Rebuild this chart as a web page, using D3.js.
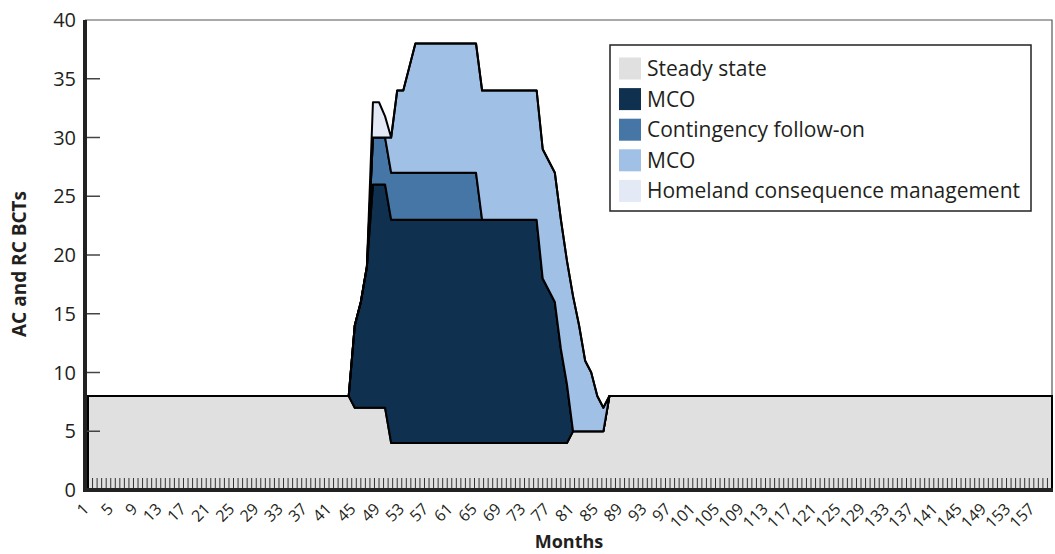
<!DOCTYPE html>
<html><head><meta charset="utf-8">
<script src="https://cdn.jsdelivr.net/npm/d3@7/dist/d3.min.js"></script>
<style>
body{margin:0;background:#fff}
svg text{font-family:"Open Sans",sans-serif;fill:#231f20}
</style>
</head><body>
<svg id="chart" width="1055" height="554"></svg>
<script>
// ---- data (months 1..160) ----
const months = [
  1,2,3,4,5,6,7,8,9,10,11,12,13,14,15,16,17,18,19,20,
  21,22,23,24,25,26,27,28,29,30,31,32,33,34,35,36,37,38,39,40,
  41,42,43,44,45,46,47,48,49,50,51,52,53,54,55,56,57,58,59,60,
  61,62,63,64,65,66,67,68,69,70,71,72,73,74,75,76,77,78,79,80,
  81,82,83,84,85,86,87,88,89,90,91,92,93,94,95,96,97,98,99,100,
  101,102,103,104,105,106,107,108,109,110,111,112,113,114,115,116,117,118,119,120,
  121,122,123,124,125,126,127,128,129,130,131,132,133,134,135,136,137,138,139,140,
  141,142,143,144,145,146,147,148,149,150,151,152,153,154,155,156,157,158,159,160
];
const steadyState = [
  8,8,8,8,8,8,8,8,8,8, 8,8,8,8,8,8,8,8,8,8,
  8,8,8,8,8,8,8,8,8,8, 8,8,8,8,8,8,8,8,8,8,
  8,8,8,8,7,7,7,7,7,7, 4,4,4,4,4,4,4,4,4,4,
  4,4,4,4,4,4,4,4,4,4, 4,4,4,4,4,4,4,4,4,4,
  5,5,5,5,5,5,8,8,8,8, 8,8,8,8,8,8,8,8,8,8,
  8,8,8,8,8,8,8,8,8,8, 8,8,8,8,8,8,8,8,8,8,
  8,8,8,8,8,8,8,8,8,8, 8,8,8,8,8,8,8,8,8,8,
  8,8,8,8,8,8,8,8,8,8, 8,8,8,8,8,8,8,8,8,8
];
const mcoMain = [
  0,0,0,0,0,0,0,0,0,0, 0,0,0,0,0,0,0,0,0,0,
  0,0,0,0,0,0,0,0,0,0, 0,0,0,0,0,0,0,0,0,0,
  0,0,0,0,7,9,12,19,19,19, 19,19,19,19,19,19,19,19,19,19,
  19,19,19,19,19,19,19,19,19,19, 19,19,19,19,19,14,13,12,8,5,
  0,0,0,0,0,0,0,0,0,0, 0,0,0,0,0,0,0,0,0,0,
  0,0,0,0,0,0,0,0,0,0, 0,0,0,0,0,0,0,0,0,0,
  0,0,0,0,0,0,0,0,0,0, 0,0,0,0,0,0,0,0,0,0,
  0,0,0,0,0,0,0,0,0,0, 0,0,0,0,0,0,0,0,0,0
];
const contingency = [
  0,0,0,0,0,0,0,0,0,0, 0,0,0,0,0,0,0,0,0,0,
  0,0,0,0,0,0,0,0,0,0, 0,0,0,0,0,0,0,0,0,0,
  0,0,0,0,0,0,0,4,4,4, 4,4,4,4,4,4,4,4,4,4,
  4,4,4,4,4,0,0,0,0,0, 0,0,0,0,0,0,0,0,0,0,
  0,0,0,0,0,0,0,0,0,0, 0,0,0,0,0,0,0,0,0,0,
  0,0,0,0,0,0,0,0,0,0, 0,0,0,0,0,0,0,0,0,0,
  0,0,0,0,0,0,0,0,0,0, 0,0,0,0,0,0,0,0,0,0,
  0,0,0,0,0,0,0,0,0,0, 0,0,0,0,0,0,0,0,0,0
];
const mcoSecond = [
  0,0,0,0,0,0,0,0,0,0, 0,0,0,0,0,0,0,0,0,0,
  0,0,0,0,0,0,0,0,0,0, 0,0,0,0,0,0,0,0,0,0,
  0,0,0,0,0,0,0,0,0,0, 3,7,7,9,11,11,11,11,11,11,
  11,11,11,11,11,11,11,11,11,11, 11,11,11,11,11,11,11,11,11,10.5,
  11.5,9,6,5,3,2,0,0,0,0, 0,0,0,0,0,0,0,0,0,0,
  0,0,0,0,0,0,0,0,0,0, 0,0,0,0,0,0,0,0,0,0,
  0,0,0,0,0,0,0,0,0,0, 0,0,0,0,0,0,0,0,0,0,
  0,0,0,0,0,0,0,0,0,0, 0,0,0,0,0,0,0,0,0,0
];
const homeland = [
  0,0,0,0,0,0,0,0,0,0, 0,0,0,0,0,0,0,0,0,0,
  0,0,0,0,0,0,0,0,0,0, 0,0,0,0,0,0,0,0,0,0,
  0,0,0,0,0,0,0,3,3,1.8, 0,0,0,0,0,0,0,0,0,0,
  0,0,0,0,0,0,0,0,0,0, 0,0,0,0,0,0,0,0,0,0,
  0,0,0,0,0,0,0,0,0,0, 0,0,0,0,0,0,0,0,0,0,
  0,0,0,0,0,0,0,0,0,0, 0,0,0,0,0,0,0,0,0,0,
  0,0,0,0,0,0,0,0,0,0, 0,0,0,0,0,0,0,0,0,0,
  0,0,0,0,0,0,0,0,0,0, 0,0,0,0,0,0,0,0,0,0
];
const seriesNames = ["Steady state","MCO","Contingency follow-on","MCO","Homeland consequence management"];
const seriesColors = ["#e0e0e0","#10304f","#4676a5","#a0c1e5","#e3eaf6"];
const xTickLabels = [1,5,9,13,17,21,25,29,33,37,41,45,49,53,57,61,65,69,73,77,81,85,89,93,97,101,105,109,113,117,121,125,129,133,137,141,145,149,153,157];
const yTickLabels = [0,5,10,15,20,25,30,35,40];

// ---- build ----
const seriesArrays = [steadyState, mcoMain, contingency, mcoSecond, homeland];
const keys = ["s0","s1","s2","s3","s4"];
const table = months.map((m,i)=>{const r={month:m}; keys.forEach((k,j)=>r[k]=seriesArrays[j][i]); return r;});
const stack = d3.stack().keys(keys)(table);

const svg = d3.select("#chart");
const x = d3.scaleLinear().domain([1,160]).range([88,1052]);
const y = d3.scaleLinear().domain([0,40]).range([490,20]);

// frame (top/right thin)
svg.append("path").attr("d",`M${x.range()[0]-3},${y(40)}H${x(160)}V${y(0)}`)
  .attr("fill","none").attr("stroke","#555").attr("stroke-width",1.2);

const area = d3.area().x(d=>x(d.data.month)).y0(d=>y(d[0])).y1(d=>y(d[1]));
svg.append("g").selectAll("path").data(stack).join("path")
  .attr("d",area).attr("fill",(d,i)=>seriesColors[i])
  .attr("stroke","#000").attr("stroke-width",2).attr("stroke-linejoin","round");

// minor x ticks (inside, dense comb)
svg.append("g").selectAll("line").data(d3.range(1.75,160,0.75)).join("line")
  .attr("x1",d=>x(d)).attr("x2",d=>x(d)).attr("y1",y(0)).attr("y2",y(0)-12)
  .attr("stroke","#333").attr("stroke-width",1);

// y ticks (inside)
svg.append("g").selectAll("line").data(yTickLabels.filter(v=>v>0&&v<40)).join("line")
  .attr("x1",86).attr("x2",100).attr("y1",d=>y(d)).attr("y2",d=>y(d))
  .attr("stroke","#444").attr("stroke-width",1.5);

// axis lines
svg.append("line").attr("x1",85).attr("x2",85).attr("y1",y(40)).attr("y2",y(0)+2)
  .attr("stroke","#222").attr("stroke-width",4);
svg.append("line").attr("x1",83).attr("x2",x(160)+1).attr("y1",y(0)).attr("y2",y(0))
  .attr("stroke","#222").attr("stroke-width",4);

// y labels
svg.append("g").selectAll("text").data(yTickLabels).join("text")
  .attr("x",76).attr("y",d=>y(d)).attr("dy","0.36em").attr("text-anchor","end")
  .attr("font-size",20).text(d=>d);

// x labels
svg.append("g").selectAll("text").data(xTickLabels).join("text")
  .attr("text-anchor","end").attr("font-size",16)
  .attr("transform",d=>`translate(${x(d)-6},${y(0)+12}) rotate(-45)`)
  .attr("dy","0.7em").text(d=>d);

// titles
svg.append("text").attr("x",569).attr("y",548).attr("text-anchor","middle")
  .attr("font-size",18).attr("font-weight","bold").text("Months");
svg.append("text").attr("transform","translate(26,264) rotate(-90)").attr("text-anchor","middle")
  .attr("font-size",19).attr("font-weight","bold").text("AC and RC BCTs");

// legend
const lg = svg.append("g");
lg.append("rect").attr("x",610).attr("y",45).attr("width",421).attr("height",166)
  .attr("fill","#fff").attr("stroke","#222").attr("stroke-width",1.5);
const rows = lg.selectAll("g").data(seriesNames).join("g")
  .attr("transform",(d,i)=>`translate(619,${57.5+i*30.6})`);
rows.append("rect").attr("width",22).attr("height",22).attr("fill",(d,i)=>seriesColors[i]);
rows.append("text").attr("x",28).attr("y",11).attr("dy","0.36em").attr("font-size",21).text(d=>d);
</script>
</body></html>
